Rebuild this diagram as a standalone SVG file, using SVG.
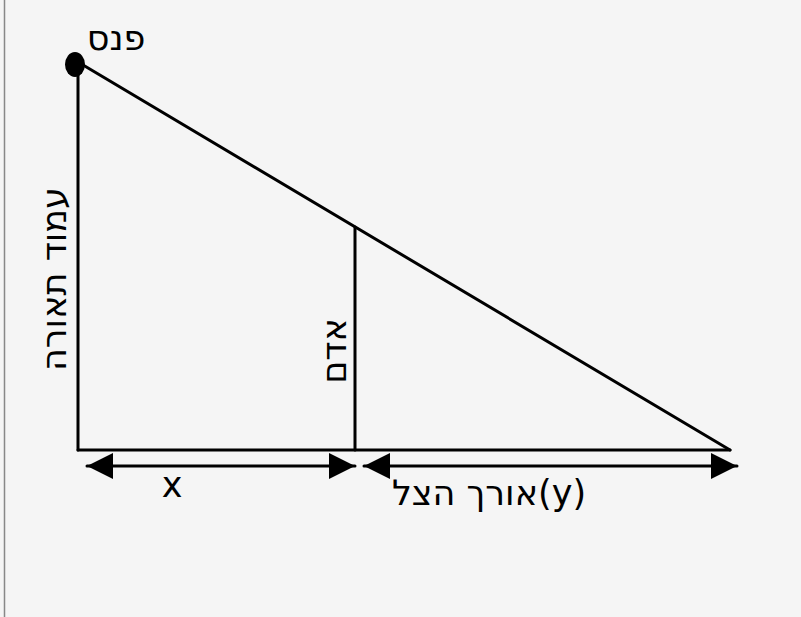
<svg xmlns="http://www.w3.org/2000/svg" width="801" height="617" viewBox="0 0 801 617">
<style>
.ln{stroke:#000;stroke-width:3;fill:none;stroke-linecap:round}
.t{font-family:"DejaVu Sans",sans-serif;font-size:35px;fill:#000;text-anchor:middle}
</style>
<defs>
<marker id="ah" viewBox="0 0 10 10" refX="10" refY="5" markerWidth="26" markerHeight="26" markerUnits="userSpaceOnUse" orient="auto-start-reverse">
<path d="M0,0 L10,5 L0,10 Z" fill="#000"/>
</marker>
</defs>
<rect width="801" height="617" fill="#f5f5f5"/>
<line x1="4.5" y1="0" x2="4.5" y2="617" stroke="#888" stroke-width="1.5"/>
<g id="pole"><line class="ln" x1="78" y1="62" x2="78" y2="450"/></g>
<g id="lamp"><ellipse cx="75" cy="64.5" rx="10" ry="12.5" fill="#000"/><text class="t" x="116" y="50">פנס</text></g>
<g id="man"><line class="ln" x1="355" y1="227" x2="355" y2="450"/></g>
<g id="connectors">
<line class="ln" x1="78" y1="62" x2="730" y2="450"/>
<line class="ln" x1="78" y1="450" x2="730" y2="450"/>
<line class="ln" x1="87" y1="466" x2="355" y2="466" marker-start="url(#ah)" marker-end="url(#ah)"/>
<line class="ln" x1="364" y1="466" x2="737" y2="466" marker-start="url(#ah)" marker-end="url(#ah)"/>
</g>
<g id="labels">
<text class="t" transform="translate(66,279) rotate(-90)">עמוד תאורה</text>
<text class="t" transform="translate(346,351) rotate(-90)">אדם</text>
<text class="t" x="172" y="497">x</text>
<text class="t" x="489" y="505">אורך הצל(y)</text>
</g>
</svg>
